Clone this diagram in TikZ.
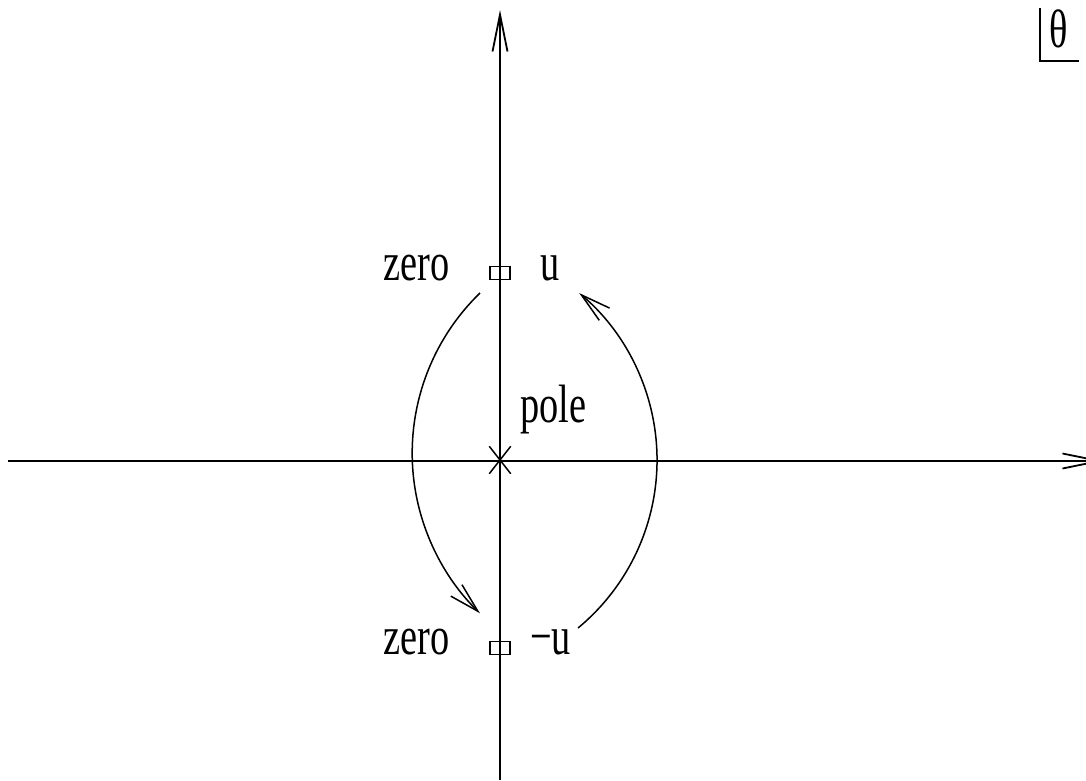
\documentclass[tikz,border=0pt]{standalone}
\usepackage{fontspec}
\setmainfont{Liberation Serif}
\usetikzlibrary{arrows.meta,shapes.misc}
\tikzset{
  axis/.style={line width=1.8pt, -{Straight Barb[length=37pt,width=15pt,line width=1.8pt]}},
  flow/.style={line width=1.5pt, -{Straight Barb[length=30pt,width=16pt,line width=1.5pt]}},
  plain/.style={line width=1.5pt},
  lbl/.style={anchor=base west, inner sep=0pt, font=\fontsize{54}{60}\selectfont},
  zerobox/.style={draw, line width=1.5pt, minimum width=20pt, minimum height=13pt, inner sep=0pt},
  polemark/.style={cross out, draw, line width=1.5pt, minimum width=20pt, minimum height=26pt, inner sep=0pt}
}
\newcommand{\nar}[1]{\scalebox{0.71}[1]{#1}}
\begin{document}
\begin{tikzpicture}[x=1pt,y=-1pt]
\clip (0,0) rectangle (1086,780);
% axes
\coordinate (ybot) at (500,780);
\coordinate (ytop) at (500,10);
\coordinate (xleft) at (8,461);
\coordinate (xright) at (1104,461);
\draw[axis] (ybot) -- (ytop);
\draw[axis] (xleft) -- (xright);
% pole
\node[polemark] (pole) at (500,460) {};
% zeros
\node[zerobox] (zu) at (500,273) {};
\node[zerobox] (zl) at (500,648) {};
% labels
\node[lbl] (t1) at (383,280) {\nar{zero}};
\node[lbl] (t2) at (540,280) {\nar{u}};
\node[lbl] (t3) at (383,654) {\nar{zero}};
\node[lbl] (t4) at (530,654) {\nar{−u}};
\node[lbl] (t5) at (520,422) {\nar{pole}};
\node[lbl] (t6) at (1049,47) {\nar{θ}};
% theta corner
\coordinate (c1) at (1040,8);
\coordinate (c2) at (1040,61);
\coordinate (c3) at (1079,61);
\draw[plain] (c1) -- (c2) -- (c3);
% arcs
\coordinate (la) at (480,293);
\coordinate (ra) at (578,628);
\draw[flow] (la) arc[start angle=-134.1, end angle=-225.9, radius=223];
\draw[flow] (ra) arc[start angle=50.4, end angle=-50, radius=218];
\end{tikzpicture}
\end{document}
